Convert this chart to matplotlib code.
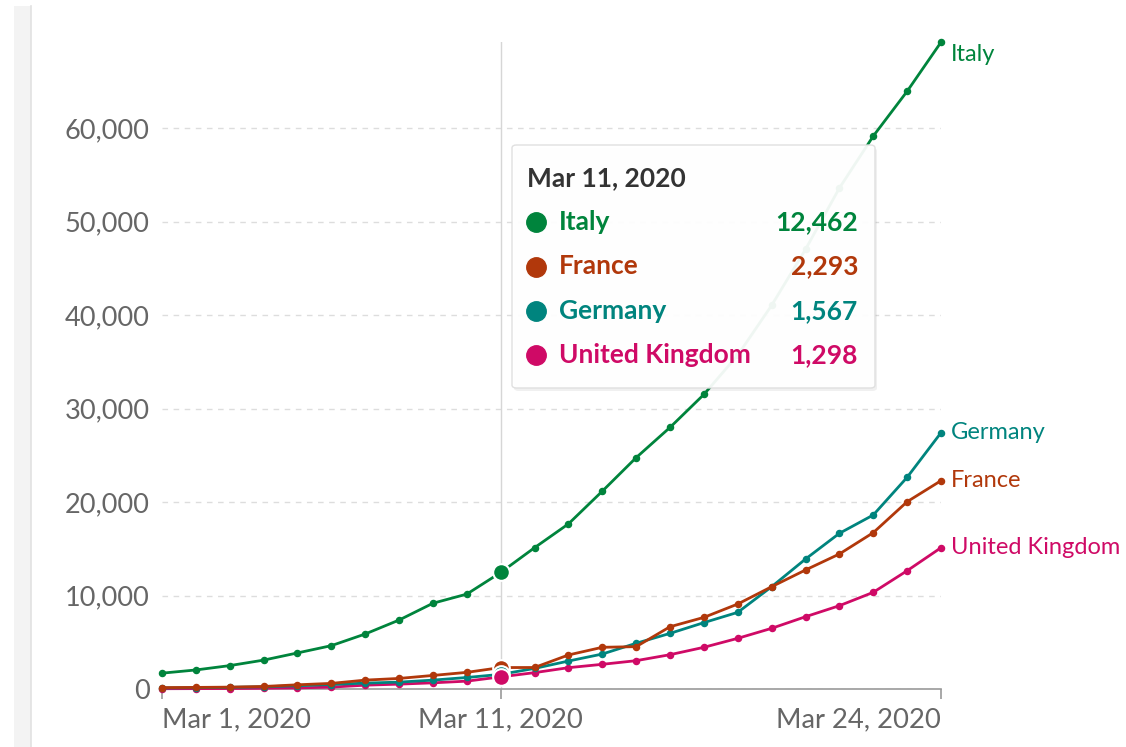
import matplotlib
matplotlib.use("Agg")
import matplotlib.pyplot as plt
from matplotlib.patches import FancyBboxPatch, Rectangle
from matplotlib.lines import Line2D
from matplotlib.ticker import FuncFormatter

# dias: 1 a 24 de março de 2020
dates = [f"Mar {d}, 2020" for d in range(1, 25)]

italy = [1694, 2036, 2502, 3089, 3858, 4636, 5883, 7375, 9172, 10149, 12462, 15113,
         17660, 21157, 24747, 27980, 31506, 35713, 41035, 47021, 53578, 59138, 63927, 69176]
france = [150, 170, 200, 270, 450, 600, 950, 1130, 1450, 1780, 2293, 2300,
          3640, 4460, 4530, 6660, 7660, 9090, 10940, 12730, 14440, 16720, 20030, 22280]
germany = [110, 140, 180, 240, 350, 480, 630, 735, 950, 1230, 1567, 2200,
           2990, 3740, 4890, 5950, 7100, 8200, 10940, 13900, 16650, 18610, 22640, 27410]
uk = [30, 40, 50, 80, 120, 200, 410, 520, 660, 840, 1298, 1750,
      2280, 2640, 3030, 3670, 4460, 5420, 6490, 7730, 8910, 10340, 12650, 15110]

countries = ["Italy", "France", "Germany", "United Kingdom"]
series = {"Italy": italy, "France": france, "Germany": germany, "United Kingdom": uk}
colors = {"Italy": "#00843c", "France": "#b1380b", "Germany": "#00847e", "United Kingdom": "#cf0a66"}

hover_day = 10          # Mar 11
tick_days = [0, 10, 23]

plt.rcParams['font.family'] = ['Lato', 'DejaVu Sans']

W, H = 1126, 747
fig = plt.figure(figsize=(W / 100, H / 100), dpi=100)
fig.patch.set_facecolor("white")


def fx(px):
    return px / W


def fy(py):
    return 1 - py / H


ax = fig.add_axes([fx(162), fy(689), fx(941) - fx(162), fy(42) - fy(689)])
x = list(range(len(dates)))

ax.axvline(hover_day, color="#d6d6d6", lw=1, zorder=1)

# ordem de desenho: UK em baixo, Italia em cima
for name in ["United Kingdom", "Germany", "France", "Italy"]:
    vals = series[name]
    c = colors[name]
    ax.plot(x, vals, color=c, lw=2.0, marker="o", ms=4.4, zorder=3, clip_on=False)
    dy = -9 if name == "Italy" else 0
    ax.annotate(name, (x[-1], vals[-1]), xytext=(7, dy), textcoords="offset points",
                va="center", ha="left", color=c, fontsize=17, annotation_clip=False)

# pontos destacados do hover (UK por cima)
for i, name in enumerate(countries):
    vals = series[name]
    ax.plot(hover_day, vals[hover_day], "o", color=colors[name], ms=12, mec="white", mew=1.5,
            zorder=4 + i * 0.1, clip_on=False)

ax.set_xlim(0, len(dates) - 1)
ax.set_ylim(0, 69200)
ax.set_yticks(range(0, 60001, 10000))
ax.yaxis.set_major_formatter(FuncFormatter(lambda v, p: f"{v:,.0f}"))
ax.yaxis.grid(True, ls=(0, (4, 4)), color="#dddddd", lw=1)
ax.set_axisbelow(True)

ax.set_xticks(tick_days)
ax.set_xticklabels([dates[i] for i in tick_days])
labels = ax.get_xticklabels()
labels[0].set_ha("left")
labels[-1].set_ha("right")

for s in ["top", "right", "left"]:
    ax.spines[s].set_visible(False)
ax.spines["bottom"].set_color("#9a9a9a")
ax.spines["bottom"].set_linewidth(1.2)
ax.tick_params(axis="x", length=7, color="#9a9a9a", width=1.2, pad=6, labelsize=19.7, labelcolor="#666666")
ax.tick_params(axis="y", length=0, pad=9, labelsize=19.5, labelcolor="#666666")

# faixa cinza a esquerda
fig.add_artist(Rectangle((fx(14), 0), fx(31) - fx(14), fy(6), transform=fig.transFigure,
                         fc="#f3f3f3", ec="none", zorder=0))
fig.add_artist(Line2D([fx(31), fx(31)], [0, fy(6)], transform=fig.transFigure,
                      color="#e2e2e2", lw=1.2, zorder=0))

# tooltip
fig.add_artist(FancyBboxPatch((fx(514), fy(391)), fx(875) - fx(512), fy(145) - fy(388),
                              boxstyle="round,pad=0,rounding_size=0.004", transform=fig.transFigure,
                              fc="#000000", ec="none", alpha=0.06, zorder=5))
fig.add_artist(FancyBboxPatch((fx(512), fy(388)), fx(875) - fx(512), fy(145) - fy(388),
                              boxstyle="round,pad=0,rounding_size=0.004", transform=fig.transFigure,
                              fc="white", ec="#dedede", lw=1, alpha=0.94, zorder=6))
fig.text(fx(527), fy(178), dates[hover_day], fontsize=19, fontweight="bold", color="#333333",
         va="center", ha="left", zorder=7)
for i, name in enumerate(countries):
    yy = fy(222 + i * 44.5)
    c = colors[name]
    fig.add_artist(Line2D([fx(536)], [yy], transform=fig.transFigure, marker="o", ms=14,
                          color=c, lw=0, zorder=7))
    fig.text(fx(559), yy, name, fontsize=19, fontweight="bold", color=c, va="center", ha="left", zorder=7)
    fig.text(fx(858), yy, f"{series[name][hover_day]:,}", fontsize=19, fontweight="bold", color=c,
             va="center", ha="right", zorder=7)

fig.savefig("out.png", dpi=100)
